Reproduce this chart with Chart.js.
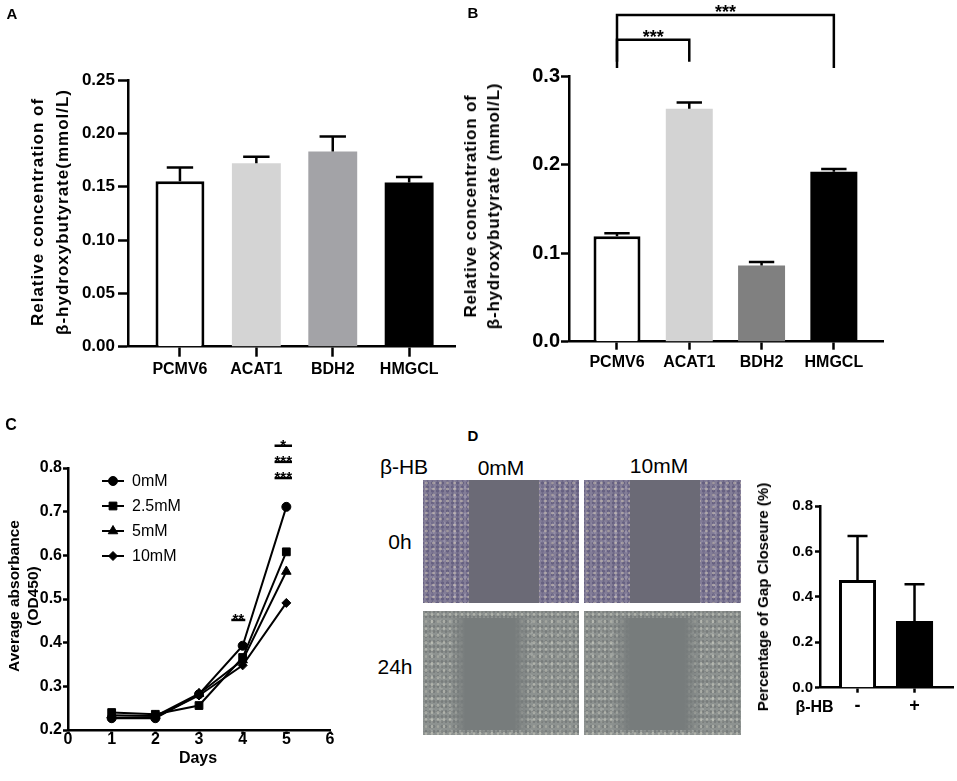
<!DOCTYPE html>
<html>
<head>
<meta charset="utf-8">
<script src="https://cdn.jsdelivr.net/npm/chart.js@4.4.1/dist/chart.umd.min.js"></script>
<style>
  html, body { margin: 0; padding: 0; background: #fff; }
  #page { position: relative; width: 957px; height: 781px; overflow: hidden; font-family: 'Liberation Sans', Arial, Helvetica, sans-serif; color: #000; }
  canvas { position: absolute; }
  .t { position: absolute; transform: translate(-50%, -50%); white-space: nowrap; }
  .b { font-weight: bold; }
  .ytitle { position: absolute; transform: translate(-50%, -50%) rotate(-90deg); white-space: nowrap; text-align: center; font-weight: bold; }
  .cell { position: absolute; overflow: hidden; }
  .top { background-color: #837d97;
    background-image: radial-gradient(circle, rgba(228,218,192,.45) 0 1px, transparent 1.7px),
                      radial-gradient(circle, rgba(50,45,90,.35) 0 1.3px, transparent 2px),
                      radial-gradient(circle, rgba(200,195,210,.3) 0 1.5px, transparent 2.4px);
    background-size: 7px 6px, 5px 4px, 11px 9px; background-position: 0 0, 2px 1px, 4px 3px; }
  .top .gap { position: absolute; top: 0; bottom: 0; background: #6b6a76; }
  .bot { background-color: #8d9290;
    background-image: radial-gradient(circle, rgba(228,228,212,.4) 0 1px, transparent 1.7px),
                      radial-gradient(circle, rgba(70,75,75,.3) 0 1px, transparent 1.8px),
                      radial-gradient(circle, rgba(210,215,205,.25) 0 1.5px, transparent 2.4px);
    background-size: 6px 7px, 4px 5px, 10px 11px; background-position: 0 0, 1px 3px, 3px 5px; }
  .bot .gap { position: absolute; top: 6%; bottom: 4%;
    background: linear-gradient(to right, rgba(118,123,123,0), #777c7c 20%, #777c7c 80%, rgba(118,123,123,0)); }
</style>
</head>
<body>
<div id="page">
  <canvas id="chartA" width="470" height="400" style="left:0;top:0;width:470px;height:400px"></canvas>
  <canvas id="chartB" width="497" height="400" style="left:460px;top:0;width:497px;height:400px"></canvas>
  <canvas id="chartC" width="350" height="381" style="left:0;top:400px;width:350px;height:381px"></canvas>
  <canvas id="chartD" width="212" height="341" style="left:745px;top:440px;width:212px;height:341px"></canvas>

  <!-- panel letters -->
  <div class="t b" style="left:12px;top:13px;font-size:15px">A</div>
  <div class="t b" style="left:473px;top:12px;font-size:15px">B</div>
  <div class="t b" style="left:11px;top:425px;font-size:16px">C</div>
  <div class="t b" style="left:473px;top:435px;font-size:15px">D</div>

  <!-- axis titles -->
  <div class="ytitle" style="left:49.5px;top:212px;font-size:17px;line-height:25px;letter-spacing:1px">Relative concentration of<br>β-hydroxybutyrate(mmol/L)</div>
  <div class="ytitle" style="left:481.5px;top:206px;font-size:17px;line-height:23px;letter-spacing:0.8px">Relative concentration of<br>β-hydroxybutyrate (mmol/L)</div>
  <div class="ytitle" style="left:22.5px;top:596px;font-size:15.5px;line-height:19px">Average absorbance<br>(OD450)</div>
  <div class="t b" style="left:198px;top:758px;font-size:16px">Days</div>
  <div class="ytitle" style="left:763px;top:596.5px;font-size:15px;line-height:18px">Percentage of Gap Closeure (%)</div>
  <div class="t b" style="left:814.5px;top:707px;font-size:16px">β-HB</div>

  <!-- scratch assay photos (placeholders) -->
  <div class="t" style="left:404px;top:467px;font-size:21px">β-HB</div>
  <div class="t" style="left:501px;top:468px;font-size:21px">0mM</div>
  <div class="t" style="left:659px;top:466px;font-size:21px">10mM</div>
  <div class="t" style="left:400px;top:542px;font-size:21px">0h</div>
  <div class="t" style="left:395px;top:667px;font-size:21px">24h</div>
  <div class="cell top" style="left:423px;top:480px;width:156px;height:123px"><div class="gap" style="left:46px;width:70px"></div></div>
  <div class="cell top" style="left:584px;top:480px;width:157px;height:123px"><div class="gap" style="left:46px;width:70px"></div></div>
  <div class="cell bot" style="left:423px;top:611px;width:156px;height:124px"><div class="gap" style="left:26px;width:82px"></div></div>
  <div class="cell bot" style="left:584px;top:611px;width:157px;height:124px"><div class="gap" style="left:28px;width:90px"></div></div>
</div>

<script>
const FONT = "'Liberation Sans', Arial, Helvetica, sans-serif";
Chart.defaults.font.family = FONT;
Chart.defaults.color = '#000';

// ---- data ----
// A
const catsA = ['PCMV6', 'ACAT1', 'BDH2', 'HMGCL'];
const valsA = [0.155, 0.172, 0.183, 0.154];
const errA = [0.013, 0.006, 0.014, 0.005];
const colorsA = ['#ffffff', '#d4d4d4', '#a3a3a7', '#000000'];
const ticksA = [0, 0.05, 0.10, 0.15, 0.20, 0.25];

// B
const catsB = ['PCMV6', 'ACAT1', 'BDH2', 'HMGCL'];
const valsB = [0.119, 0.263, 0.086, 0.192];
const errB = [0.0035, 0.007, 0.004, 0.003];
const colorsB = ['#ffffff', '#d3d3d3', '#808080', '#000000'];
const ticksB = [0, 0.1, 0.2, 0.3];
const sigB = [
  { from: 0, to: 1, y: 0.341, leg: 0.316, text: '***' },
  { from: 0, to: 3, y: 0.369, leg: 0.309, text: '***' },
];

// C
const daysC = [1, 2, 3, 4, 5];
const namesC = ['0mM', '2.5mM', '5mM', '10mM'];
const od0 = [0.227, 0.227, 0.282, 0.393, 0.711];
const od25 = [0.240, 0.236, 0.256, 0.366, 0.608];
const od5 = [0.234, 0.232, 0.283, 0.360, 0.563];
const od10 = [0.228, 0.229, 0.279, 0.348, 0.491];
const stylesC = ['circle', 'rect', 'triangle', 'rectRot'];
const radiiC = [4.5, 5.5, 5.5, 4.5];
const ticksCx = [0, 1, 2, 3, 4, 5, 6];
const ticksCy = [0.2, 0.3, 0.4, 0.5, 0.6, 0.7, 0.8];
const sigC = [
  { x: 4.93, half: 0.2, y: 0.851, text: '*' },
  { x: 4.93, half: 0.2, y: 0.814, text: '***' },
  { x: 4.93, half: 0.2, y: 0.777, text: '***' },
  { x: 3.9, half: 0.16, y: 0.452, text: '**' },
];

// D
const catsD = ['-', '+'];
const valsD = [0.474, 0.294];
const errD = [0.194, 0.161];
const colorsD = ['#ffffff', '#000000'];
const ticksD = [0, 0.2, 0.4, 0.6, 0.8];

// ---- plugins ----
const errBars = {
  id: 'errBars',
  afterDatasetsDraw(chart, args, opts) {
    if (!opts.err) return;
    const { ctx } = chart;
    const ys = chart.scales.y;
    const meta = chart.getDatasetMeta(0);
    const data = chart.data.datasets[0].data;
    ctx.save();
    ctx.strokeStyle = '#000';
    ctx.lineWidth = 2.5;
    meta.data.forEach((bar, i) => {
      const top = ys.getPixelForValue(data[i].y + opts.err[i]);
      const half = bar.width * 0.27;
      ctx.beginPath();
      ctx.moveTo(bar.x, bar.y);
      ctx.lineTo(bar.x, top);
      ctx.moveTo(bar.x - half, top);
      ctx.lineTo(bar.x + half, top);
      ctx.stroke();
    });
    ctx.restore();
  }
};

const brackets = {
  id: 'brackets',
  afterDraw(chart, args, opts) {
    if (!opts.items) return;
    const { ctx } = chart;
    const xs = chart.scales.x, ys = chart.scales.y;
    ctx.save();
    ctx.strokeStyle = '#000';
    ctx.fillStyle = '#000';
    ctx.lineWidth = 2.5;
    ctx.font = 'bold 18px ' + FONT;
    ctx.textAlign = 'center';
    opts.items.forEach(b => {
      const x0 = xs.getPixelForValue(b.from), x1 = xs.getPixelForValue(b.to);
      const y = ys.getPixelForValue(b.y), yl = ys.getPixelForValue(b.leg);
      ctx.beginPath();
      ctx.moveTo(x0, yl);
      ctx.lineTo(x0, y);
      ctx.lineTo(x1, y);
      ctx.lineTo(x1, yl);
      ctx.stroke();
      ctx.fillText(b.text, (x0 + x1) / 2, y + 3);
    });
    ctx.restore();
  }
};

const marksC = {
  id: 'marksC',
  afterDraw(chart, args, opts) {
    if (!opts.items) return;
    const { ctx, chartArea } = chart;
    const xs = chart.scales.x, ys = chart.scales.y;
    ctx.save();
    ctx.strokeStyle = '#000';
    ctx.fillStyle = '#000';
    // significance bars
    ctx.lineWidth = 2.5;
    ctx.font = 'bold 15px ' + FONT;
    ctx.textAlign = 'center';
    opts.items.forEach(m => {
      const y = ys.getPixelForValue(m.y);
      const x0 = xs.getPixelForValue(m.x - m.half), x1 = xs.getPixelForValue(m.x + m.half);
      ctx.beginPath();
      ctx.moveTo(x0, y);
      ctx.lineTo(x1, y);
      ctx.stroke();
      ctx.fillText(m.text, (x0 + x1) / 2, y + 4);
    });
    // legend
    ctx.font = '16px ' + FONT;
    ctx.textAlign = 'left';
    ctx.textBaseline = 'middle';
    chart.data.datasets.forEach((ds, i) => {
      const x = chartArea.left + 34, y = chartArea.top + 13 + i * 25;
      ctx.lineWidth = 2;
      ctx.beginPath();
      ctx.moveTo(x, y);
      ctx.lineTo(x + 22, y);
      ctx.stroke();
      if (Chart.helpers && Chart.helpers.drawPoint) {
        ctx.lineWidth = 1;
        Chart.helpers.drawPoint(ctx, { pointStyle: ds.pointStyle, radius: ds.pointRadius, borderWidth: 1, rotation: 0 }, x + 11, y);
      }
      ctx.fillText(ds.label, x + 30, y + 1);
    });
    ctx.restore();
  }
};

// ---- axis helpers ----
function axisY(o) {
  return {
    type: 'linear', bounds: 'data',
    min: o.ticks[0], max: o.ticks[o.ticks.length - 1],
    afterFit: s => { s.width = o.width; },
    afterBuildTicks: s => { s.ticks = o.ticks.map(v => ({ value: v })); },
    ticks: { callback: v => v.toFixed(o.dec), font: { size: o.font, weight: 'bold' }, padding: o.pad },
    grid: { drawOnChartArea: false, tickLength: o.tick, tickWidth: 2.5, tickColor: '#000', color: '#000' },
    border: { color: '#000', width: 2.5 }
  };
}

function axisX(o) {
  return {
    type: 'linear', bounds: 'data', offset: false,
    min: o.min, max: o.max,
    afterFit: s => { s.height = o.height; },
    afterBuildTicks: s => { s.ticks = o.ticks.map(v => ({ value: v })); },
    ticks: {
      callback: o.labels ? (v => o.labels[v]) : (v => String(v)),
      font: { size: o.font, weight: 'bold', lineHeight: o.lh || 1.2 }, padding: o.pad,
      maxRotation: 0, autoSkip: false
    },
    grid: { offset: false, drawOnChartArea: false, tickLength: o.tick, tickWidth: 2.5, tickColor: '#000', color: '#000' },
    border: { color: '#000', width: 2.5 }
  };
}

const base = {
  responsive: false,
  animation: false,
  plugins: { legend: { display: false }, tooltip: { enabled: false } }
};

function barChart(id, cats, vals, colors, err, o) {
  return new Chart(document.getElementById(id), {
    type: 'bar',
    data: {
      datasets: [{
        data: vals.map((v, i) => ({ x: i, y: v })),
        backgroundColor: colors,
        borderColor: '#000',
        borderWidth: colors.map(c => c === '#ffffff' ? 3 : 0),
        categoryPercentage: 1,
        barPercentage: o.barPct
      }]
    },
    options: {
      ...base,
      layout: { padding: o.padding },
      plugins: { ...base.plugins, errBars: { err }, brackets: { items: o.brackets } },
      scales: {
        x: axisX({ min: o.xMin, max: o.xMax, height: o.xHeight, ticks: cats.map((c, i) => i), labels: cats,
                   font: o.xFont, pad: o.xPad, tick: o.xTick }),
        y: axisY({ ticks: o.yTicks, width: o.yWidth, dec: o.dec, font: o.yFont, pad: o.yPad, tick: o.yTick })
      }
    },
    plugins: [errBars, brackets]
  });
}

// A
barChart('chartA', catsA, valsA, colorsA, errA, {
  padding: { top: 80, right: 15, bottom: 0, left: 0 },
  xMin: -0.68, xMax: 3.6, xHeight: 53.3, xFont: 16, xPad: 3, xTick: 10,
  yTicks: ticksA, yWidth: 128, dec: 2, yFont: 17, yPad: 3, yTick: 10, barPct: 0.64
});

// B
barChart('chartB', catsB, valsB, colorsB, errB, {
  padding: { top: 76, right: 74, bottom: 0, left: 0 },
  xMin: -0.664, xMax: 3.68, xHeight: 58.3, xFont: 16, xPad: 3, xTick: 8,
  yTicks: ticksB, yWidth: 109, dec: 1, yFont: 20, yPad: 1, yTick: 8, barPct: 0.65,
  brackets: sigB
});

// D
barChart('chartD', catsD, valsD, colorsD, errD, {
  padding: { top: 66, right: 4, bottom: 0, left: 0 },
  xMin: -0.658, xMax: 1.675, xHeight: 93.3, xFont: 18, xPad: 3, xTick: 5,
  yTicks: ticksD, yWidth: 75, dec: 1, yFont: 15, yPad: 2, yTick: 5, barPct: 0.65
});

// C
const seriesC = [od0, od25, od5, od10];
new Chart(document.getElementById('chartC'), {
  type: 'line',
  data: {
    datasets: seriesC.map((s, i) => ({
      label: namesC[i],
      data: s.map((v, j) => ({ x: daysC[j], y: v })),
      borderColor: '#000',
      backgroundColor: '#000',
      borderWidth: 2,
      pointStyle: stylesC[i],
      pointRadius: radiiC[i],
      pointBorderWidth: 1,
      tension: 0,
      fill: false
    }))
  },
  options: {
    ...base,
    layout: { padding: { top: 68, right: 20, bottom: 0, left: 0 } },
    plugins: { ...base.plugins, marksC: { items: sigC } },
    scales: {
      x: axisX({ min: 0, max: 6, height: 51, ticks: ticksCx, font: 16, pad: -2, tick: 4, lh: 1 }),
      y: axisY({ ticks: ticksCy, width: 68, dec: 1, font: 16, pad: 1, tick: 5 })
    }
  },
  plugins: [marksC]
});
</script>
</body>
</html>
